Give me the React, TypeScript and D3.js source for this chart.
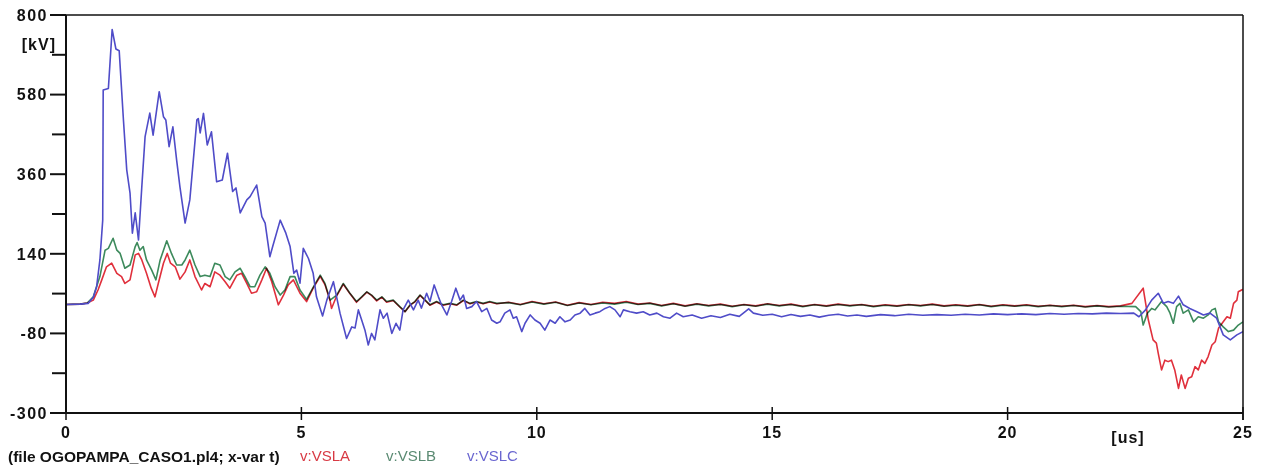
import React from 'react';
import * as d3 from 'd3';

// ATP plot: phase voltages VSLA / VSLB / VSLC, kV vs us
const yMajor = [800, 580, 360, 140, -80, -300];
const yMinor = [690, 470, 250, 30, -190];
const xTicks = [0, 5, 10, 15, 20, 25];

const vsla: [number, number][] = [
  [0, 0], [0.3, 1], [0.45, 4], [0.58, 12], [0.68, 40], [0.76, 68], [0.86, 104], [0.97, 114], [1.08, 86],
  [1.18, 77], [1.25, 58], [1.36, 68], [1.47, 137], [1.54, 141], [1.61, 123], [1.71, 86], [1.81, 45],
  [1.89, 21], [1.96, 58], [2.07, 114], [2.15, 141], [2.22, 114], [2.32, 104], [2.42, 70], [2.53, 90],
  [2.63, 123], [2.74, 77], [2.88, 40], [2.95, 58], [3.06, 49], [3.16, 90], [3.27, 81], [3.38, 63],
  [3.48, 45], [3.63, 81], [3.73, 86], [3.84, 58], [3.94, 31], [4.05, 35], [4.16, 68], [4.26, 100],
  [4.37, 63], [4.51, -1], [4.62, 26], [4.72, 54], [4.83, 68], [4.97, 31], [5.11, 8], [5.25, 45],
  [5.4, 78], [5.5, 55], [5.61, 10], [5.64, -11], [5.75, 24], [5.89, 56], [6.03, 30], [6.17, 6],
  [6.28, 20], [6.39, 34], [6.49, 25], [6.6, 10], [6.71, 20], [6.81, 6], [6.95, 11], [7.09, -7],
  [7.2, -20], [7.31, -2], [7.41, 7], [7.52, 25], [7.63, 11], [7.73, -2], [7.87, 7], [8.01, -2],
  [8.16, 2], [8.3, -2], [8.44, 11], [8.58, 2], [8.72, 7], [8.86, 2], [9.0, 7], [9.15, 2],
  [9.4, 6], [9.65, 0], [9.9, 8], [10.15, 2], [10.4, 7], [10.65, -2], [10.9, 5], [11.15, 0], [11.4, 6],
  [11.65, 3], [11.9, 8], [12.15, 1], [12.4, 4], [12.65, -3], [12.9, 3], [13.15, -4], [13.4, 2],
  [13.65, -3], [13.9, 1], [14.15, -5], [14.4, 0], [14.65, -4], [14.9, 2], [15.15, -3], [15.4, 1],
  [15.65, -5], [15.9, 0], [16.15, -4], [16.4, 1], [16.65, -3], [16.9, 0], [17.15, -5], [17.4, -1],
  [17.65, -4], [17.9, 0], [18.15, -3], [18.4, 1], [18.65, -4], [18.9, -1], [19.15, -4], [19.4, 0],
  [19.65, -5], [19.9, -1], [20.15, -4], [20.4, -1], [20.65, -5], [20.9, -2], [21.15, -5], [21.4, -2],
  [21.65, -6], [21.9, -3], [22.15, -6], [22.4, -4], [22.64, 3], [22.88, 45], [22.99, -43], [23.09, -98],
  [23.16, -107], [23.2, -135], [23.27, -181], [23.34, -154], [23.41, -158], [23.48, -154], [23.55, -181],
  [23.63, -232], [23.69, -195], [23.77, -232], [23.84, -204], [23.91, -200], [23.98, -172], [24.05, -181],
  [24.12, -154], [24.19, -163], [24.26, -144], [24.34, -112], [24.41, -103], [24.48, -66], [24.58, -48],
  [24.66, -34], [24.73, -38], [24.8, 3], [24.87, 12], [24.9, 35], [25, 42],
];

const vslb: [number, number][] = [
  [0, 0], [0.3, 1], [0.45, 4], [0.58, 21], [0.72, 77], [0.83, 150], [0.9, 155], [1.0, 183], [1.08, 150],
  [1.15, 141], [1.25, 100], [1.36, 109], [1.47, 160], [1.51, 171], [1.57, 150], [1.64, 160], [1.71, 123],
  [1.82, 95], [1.91, 68], [2.0, 123], [2.14, 176], [2.24, 141], [2.35, 109], [2.46, 109], [2.53, 123],
  [2.63, 150], [2.74, 109], [2.85, 77], [2.95, 81], [3.06, 77], [3.16, 114], [3.27, 109], [3.38, 77],
  [3.48, 68], [3.59, 90], [3.7, 100], [3.8, 77], [3.91, 49], [4.01, 49], [4.12, 81], [4.23, 104],
  [4.33, 86], [4.44, 49], [4.55, 26], [4.65, 40], [4.76, 77], [4.86, 77], [4.97, 40], [5.11, 14],
  [5.25, 47], [5.4, 81], [5.5, 58], [5.61, 12], [5.75, 26], [5.89, 58], [6.03, 31], [6.17, 8],
  [6.28, 21], [6.39, 35], [6.49, 26], [6.6, 12], [6.71, 21], [6.81, 8], [6.95, 12], [7.09, -6],
  [7.2, -20], [7.31, -1], [7.41, 8], [7.52, 26], [7.63, 12], [7.73, -1], [7.87, 8], [8.01, -1],
  [8.16, 3], [8.3, -1], [8.44, 12], [8.58, 3], [8.72, 8], [8.86, 3], [9.0, 8], [9.15, 3],
  [9.4, 5], [9.65, -1], [9.9, 7], [10.15, 1], [10.4, 6], [10.65, -3], [10.9, 4], [11.15, -1], [11.4, 4],
  [11.65, 1], [11.9, 6], [12.15, 0], [12.4, 3], [12.65, -4], [12.9, 2], [13.15, -5], [13.4, 1],
  [13.65, -4], [13.9, 0], [14.15, -6], [14.4, -1], [14.65, -5], [14.9, 1], [15.15, -4], [15.4, 0],
  [15.65, -6], [15.9, -1], [16.15, -5], [16.4, 0], [16.65, -4], [16.9, -1], [17.15, -6], [17.4, -2],
  [17.65, -5], [17.9, -1], [18.15, -4], [18.4, 0], [18.65, -5], [18.9, -2], [19.15, -5], [19.4, -1],
  [19.65, -6], [19.9, -2], [20.15, -5], [20.4, -2], [20.65, -6], [20.9, -3], [21.15, -6], [21.4, -3],
  [21.65, -7], [21.9, -4], [22.15, -7], [22.4, -5], [22.72, -6], [22.83, -20], [22.88, -57], [22.97, -24],
  [23.06, -11], [23.13, -15], [23.27, 8], [23.38, -6], [23.45, -24], [23.52, -52], [23.59, -6], [23.66, 3],
  [23.73, -24], [23.84, -15], [23.95, -48], [24.05, -34], [24.16, -38], [24.26, -29], [24.34, -15],
  [24.41, -11], [24.48, -48], [24.58, -62], [24.69, -75], [24.8, -71], [24.9, -57], [25, -48],
];

const vslc: [number, number][] = [
  [0, 0], [0.3, 1], [0.47, 3], [0.58, 20], [0.65, 49], [0.72, 123], [0.78, 233], [0.79, 593], [0.9, 597],
  [0.98, 760], [1.06, 706], [1.13, 701], [1.22, 510], [1.29, 372], [1.36, 308], [1.41, 197], [1.47, 253],
  [1.54, 178], [1.61, 325], [1.68, 464], [1.78, 529], [1.85, 468], [1.98, 588], [2.07, 519], [2.12, 510],
  [2.19, 436], [2.27, 491], [2.35, 399], [2.42, 325], [2.53, 225], [2.63, 289], [2.78, 510], [2.81, 514],
  [2.85, 474], [2.92, 528], [3.0, 441], [3.09, 477], [3.2, 339], [3.32, 344], [3.43, 418], [3.54, 312],
  [3.61, 322], [3.7, 253], [3.84, 289], [3.91, 298], [4.05, 330], [4.16, 243], [4.23, 225], [4.33, 132],
  [4.39, 160], [4.55, 233], [4.67, 197], [4.76, 160], [4.84, 86], [4.9, 95], [4.97, 59], [5.04, 155],
  [5.15, 127], [5.25, 86], [5.32, 21], [5.45, -32], [5.54, 12], [5.68, 63], [5.74, 26], [5.82, -24],
  [5.96, -94], [6.07, -62], [6.14, -65], [6.21, -15], [6.28, -43], [6.35, -71], [6.42, -112], [6.49, -80],
  [6.56, -98], [6.67, -15], [6.74, -38], [6.82, -24], [6.92, -80], [7.01, -52], [7.09, -71], [7.16, -15],
  [7.27, 12], [7.38, -15], [7.48, 12], [7.55, -10], [7.66, 31], [7.73, 8], [7.82, 54], [7.91, 21],
  [7.98, -2], [8.09, -29], [8.19, 8], [8.28, 45], [8.37, 12], [8.44, 26], [8.51, -11], [8.62, -6],
  [8.72, 8], [8.83, -20], [8.94, -11], [9.04, -43], [9.15, -52], [9.22, -48], [9.32, -24], [9.43, -15],
  [9.5, -38], [9.57, -34], [9.68, -75], [9.75, -52], [9.86, -29], [9.96, -43], [10.07, -52], [10.17, -71],
  [10.28, -43], [10.39, -52], [10.49, -34], [10.6, -48], [10.71, -43], [10.81, -29], [10.92, -24],
  [11.02, -11], [11.13, -29], [11.24, -24], [11.34, -20], [11.45, -11], [11.55, -6], [11.66, -15],
  [11.77, -34], [11.84, -15], [11.98, -20], [12.12, -24], [12.26, -20], [12.4, -29], [12.55, -24],
  [12.69, -34], [12.83, -38], [12.97, -24], [13.11, -34], [13.3, -29], [13.5, -38], [13.7, -31],
  [13.9, -36], [14.1, -27], [14.3, -33], [14.5, -12], [14.6, -24], [14.8, -30], [15.0, -27], [15.2, -34],
  [15.4, -28], [15.6, -33], [15.8, -29], [16.0, -35], [16.2, -30], [16.4, -27], [16.6, -32], [16.8, -29],
  [17.0, -33], [17.3, -28], [17.6, -31], [17.9, -27], [18.2, -30], [18.5, -28], [18.8, -30], [19.1, -27],
  [19.4, -29], [19.7, -26], [20.0, -28], [20.3, -26], [20.6, -28], [20.9, -25], [21.2, -27], [21.5, -25],
  [21.8, -26], [22.1, -24], [22.4, -25], [22.68, -24], [22.79, -34], [22.93, -15], [23.06, 12], [23.2, 31],
  [23.31, 3], [23.41, 8], [23.52, 3], [23.63, 23], [23.73, -1], [23.87, -11], [24.02, -20], [24.16, -29],
  [24.3, -24], [24.44, -38], [24.58, -84], [24.73, -98], [24.87, -84], [25, -75],
];

const series = [
  { name: 'v:VSLA', data: vsla, color: '#e0303c', text: '#d83a44' },
  { name: 'v:VSLB', data: vslb, color: '#3d8a5c', text: '#5a8a72' },
  { name: 'v:VSLC', data: vslc, color: '#4f4cc8', text: '#6a66d0' },
];

export default function App() {
  const x = d3.scaleLinear().domain([0, 25]).range([66, 1243]);
  const y = d3.scaleLinear().domain([-300, 800]).range([413, 15]);
  const line = d3.line<[number, number]>().x(d => x(d[0])).y(d => y(d[1]));
  const font = "'Liberation Sans', Arial, sans-serif";

  return (
    <svg width={1264} height={468} style={{ position: 'absolute', left: 0, top: 0, background: '#fff' }}>
      <defs>
        <clipPath id="plot"><rect x={66} y={15} width={1177} height={398} /></clipPath>
      </defs>
      <g clipPath="url(#plot)">
        {series.map(s => (
          <path key={s.name} d={line(s.data) || ''} fill="none" stroke={s.color} strokeWidth={1.6}
            strokeLinejoin="round" style={{ mixBlendMode: s.name === 'v:VSLC' ? 'normal' : 'multiply' }} />
        ))}
      </g>
      {/* frame */}
      <line x1={66} x2={66} y1={15} y2={413} stroke="#111" strokeWidth={2} />
      <line x1={66} x2={1243} y1={413} y2={413} stroke="#111" strokeWidth={2} />
      <line x1={66} x2={1243} y1={15} y2={15} stroke="#111" strokeWidth={1.5} />
      <line x1={1243} x2={1243} y1={15} y2={420} stroke="#111" strokeWidth={1.5} />
      {yMajor.map(v => (
        <g key={v}>
          <line x1={50} x2={66} y1={y(v)} y2={y(v)} stroke="#111" strokeWidth={2} />
          <text x={48} y={y(v)} dy="0.36em" textAnchor="end" fontFamily={font} fontWeight="bold"
            fontSize={16} letterSpacing={1.5} fill="#111">{v}</text>
        </g>
      ))}
      {yMinor.map(v => (
        <line key={v} x1={52} x2={66} y1={y(v)} y2={y(v)} stroke="#111" strokeWidth={2} />
      ))}
      <text x={56} y={44} dy="0.36em" textAnchor="end" fontFamily={font} fontWeight="bold" fontSize={16}
        letterSpacing={1} fill="#111">[kV]</text>
      {xTicks.map(t => (
        <g key={t}>
          <line x1={x(t)} x2={x(t)} y1={407} y2={420} stroke="#111" strokeWidth={1.5} />
          <text x={x(t)} y={432} dy="0.36em" textAnchor="middle" fontFamily={font} fontWeight="bold"
            fontSize={16} letterSpacing={1} fill="#111">{t}</text>
        </g>
      ))}
      <text x={1128} y={437} dy="0.36em" textAnchor="middle" fontFamily={font} fontWeight="bold" fontSize={16}
        letterSpacing={1} fill="#111">[us]</text>
      {/* legend line */}
      <text x={8} y={456} dy="0.36em" fontFamily={font} fontWeight="bold" fontSize={15.5} fill="#111">
        (file OGOPAMPA_CASO1.pl4; x-var t)
      </text>
      {series.map((s, i) => (
        <text key={s.name} x={[300, 386, 467][i]} y={456} dy="0.36em" fontFamily={font} fontSize={15}
          fill={s.text}>{s.name}</text>
      ))}
    </svg>
  );
}
